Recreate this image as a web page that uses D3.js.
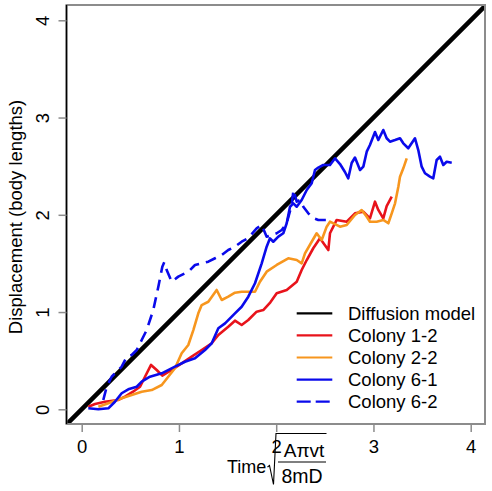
<!DOCTYPE html>
<html>
<head>
<meta charset="utf-8">
<script src="https://cdn.jsdelivr.net/npm/d3@7"></script>
<style>
  html, body { margin: 0; padding: 0; background: #fff; }
  svg { display: block; }
  text { font-family: "Liberation Sans", Arial, Helvetica, sans-serif; }
</style>
</head>
<body>
<svg id="chart" width="492" height="491"></svg>
<script>
// ---------------- data ----------------
const xTicks = [0, 1, 2, 3, 4];
const yTicks = [0, 1, 2, 3, 4];
const legendLabels = ["Diffusion model", "Colony 1-2", "Colony 2-2", "Colony 6-1", "Colony 6-2"];
const diffusionModel = [[-0.2, -0.2], [4.2, 4.2]];

const colony12 = [
  [0.068,0.027],[0.137,0.054],[0.240,0.078],[0.373,0.096],[0.445,0.130],[0.528,0.181],
  [0.600,0.232],[0.651,0.335],[0.713,0.456],[0.771,0.404],[0.829,0.346],[0.925,0.404],
  [1.028,0.473],[1.131,0.541],[1.234,0.610],[1.337,0.679],[1.405,0.764],[1.507,0.849],
  [1.576,0.911],[1.645,0.867],[1.713,0.918],[1.799,1.004],[1.867,1.021],[1.94,1.10],
  [2.005,1.193],[2.108,1.227],[2.211,1.312],[2.262,1.432],[2.314,1.535],[2.381,1.656],
  [2.450,1.758],[2.536,1.638],[2.553,1.810],[2.622,1.947],[2.725,1.929],[2.810,2.015],
  [2.896,2.032],[2.964,1.964],[3.016,2.135],[3.050,2.050],[3.101,1.964],[3.136,2.090],
  [3.188,2.186]
];
const colony22 = [
  [0.171,0.027],[0.274,0.062],[0.411,0.113],[0.514,0.147],[0.617,0.181],[0.720,0.198],
  [0.823,0.250],[0.890,0.335],[0.959,0.422],[1.028,0.576],[1.096,0.661],[1.148,0.815],
  [1.199,0.987],[1.234,1.072],[1.302,1.106],[1.388,1.227],[1.440,1.124],[1.507,1.158],
  [1.576,1.199],[1.645,1.209],[1.713,1.209],[1.782,1.209],[1.833,1.312],[1.902,1.415],
  [2.005,1.484],[2.124,1.553],[2.211,1.535],[2.262,1.501],[2.296,1.604],[2.365,1.723],
  [2.416,1.810],[2.468,1.741],[2.519,1.878],[2.553,1.929],[2.656,1.878],[2.725,1.895],
  [2.810,1.998],[2.879,2.049],[2.931,1.980],[2.964,1.929],[3.033,1.929],[3.101,1.947],
  [3.153,1.913],[3.188,2.015],[3.222,2.118],[3.256,2.289],[3.273,2.392],[3.307,2.478],
  [3.342,2.581]
];
const colony61 = [
  [0.068,0.010],[0.171,0.000],[0.274,0.010],[0.342,0.078],[0.411,0.165],[0.479,0.206],
  [0.566,0.232],[0.617,0.284],[0.702,0.335],[0.823,0.370],[0.959,0.438],[1.062,0.489],
  [1.165,0.524],[1.268,0.610],[1.337,0.679],[1.405,0.833],[1.474,0.884],[1.576,0.987],
  [1.645,1.055],[1.713,1.158],[1.782,1.296],[1.851,1.501],[1.902,1.672],[1.936,1.758],
  [1.970,1.723],[2.022,1.775],[2.073,1.810],[2.108,1.913],[2.142,2.083],[2.176,2.118],
  [2.211,2.083],[2.262,2.152],[2.314,2.255],[2.365,2.324],[2.399,2.461],[2.433,2.486],
  [2.484,2.512],[2.553,2.512],[2.605,2.581],[2.656,2.522],[2.707,2.440],[2.741,2.375],
  [2.776,2.533],[2.810,2.589],[2.862,2.461],[2.896,2.495],[2.931,2.649],[2.964,2.718],
  [3.016,2.851],[3.050,2.769],[3.101,2.872],[3.136,2.787],[3.170,2.752],[3.222,2.769],
  [3.273,2.787],[3.307,2.735],[3.358,2.684],[3.427,2.787],[3.461,2.666],[3.496,2.495],
  [3.530,2.427],[3.581,2.392],[3.615,2.375],[3.650,2.564],[3.684,2.597],[3.718,2.512],
  [3.753,2.546],[3.805,2.536]
];
const colony62 = [
  [0.222,0.096],[0.257,0.232],[0.308,0.335],[0.360,0.387],[0.411,0.438],[0.463,0.541],
  [0.514,0.558],[0.566,0.610],[0.617,0.713],[0.668,0.815],[0.736,1.021],[0.788,1.261],
  [0.829,1.466],[0.849,1.512],[0.874,1.432],[0.925,1.312],[0.993,1.364],[1.062,1.398],
  [1.114,1.432],[1.165,1.484],[1.234,1.501],[1.302,1.518],[1.371,1.553],[1.440,1.587],
  [1.507,1.638],[1.576,1.672],[1.645,1.723],[1.713,1.761],[1.799,1.861],[1.851,1.895],
  [1.902,1.775],[1.954,1.792],[2.005,1.810],[2.057,1.844],[2.108,1.913],[2.159,2.101],
  [2.178,2.255],[2.211,2.135],[2.245,2.152],[2.279,2.083],[2.330,2.015],[2.381,1.967],
  [2.433,1.947],[2.519,1.947]
];

// ---------------- layout ----------------
const colors = ["#000000", "#E8131B", "#F7961E", "#0A0AEB", "#0A0AEB"];
const box = { left: 66.5, right: 485, top: 5, bottom: 424 };
const FS = 18.5;

const svg = d3.select("#chart");
const x = d3.scaleLinear().domain([0, 4]).range([81.7, 470.7]);
const y = d3.scaleLinear().domain([0, 4]).range([409.3, 20.3]);

svg.append("defs").append("clipPath").attr("id", "clip")
  .append("rect").attr("x", box.left).attr("y", box.top)
  .attr("width", box.right - box.left).attr("height", box.bottom - box.top);

const line = d3.line().x(d => x(d[0])).y(d => y(d[1]));
const plot = svg.append("g").attr("clip-path", "url(#clip)");

plot.append("path").datum(diffusionModel).attr("d", line)
  .attr("fill", "none").attr("stroke", colors[0]).attr("stroke-width", 4.5);

const series = [colony12, colony22, colony61, colony62];
series.forEach((s, i) => {
  plot.append("path").datum(s).attr("d", line)
    .attr("fill", "none").attr("stroke", colors[i + 1])
    .attr("stroke-width", 2.6)
    .attr("stroke-linejoin", "round")
    .attr("stroke-dasharray", i === 3 ? "11,7" : null);
});

// frame
svg.append("rect").attr("x", box.left).attr("y", box.top)
  .attr("width", box.right - box.left).attr("height", box.bottom - box.top)
  .attr("fill", "none").attr("stroke", "#8c8c8c").attr("stroke-width", 2);
svg.append("line").attr("x1", box.left).attr("x2", box.left)
  .attr("y1", box.top).attr("y2", box.bottom)
  .attr("stroke", "#000").attr("stroke-width", 1.5);

// x axis
const gx = svg.append("g").attr("transform", `translate(0,${box.bottom})`)
  .call(d3.axisBottom(x).tickValues(xTicks).tickSize(8).tickPadding(8).tickFormat(d3.format("d")));
gx.select(".domain").remove();
gx.selectAll(".tick line").attr("stroke", "#8c8c8c").attr("stroke-width", 1.5);
gx.selectAll(".tick text").attr("font-size", FS).attr("fill", "#000")
  .style("font-family", "'Liberation Sans', Arial, sans-serif");

// y axis
const gy = svg.append("g").attr("transform", `translate(${box.left},0)`)
  .call(d3.axisLeft(y).tickValues(yTicks).tickSize(8).tickFormat(d3.format("d")));
gy.select(".domain").remove();
gy.selectAll(".tick line").attr("stroke", "#8c8c8c").attr("stroke-width", 1.5);
gy.selectAll(".tick text")
  .attr("transform", "rotate(-90)")
  .attr("x", 0).attr("y", -17.5).attr("dy", 0)
  .attr("text-anchor", "middle")
  .attr("font-size", FS).attr("fill", "#000")
  .style("font-family", "'Liberation Sans', Arial, sans-serif");

// y label
svg.append("text")
  .attr("transform", "translate(22,217) rotate(-90)")
  .attr("text-anchor", "middle").attr("font-size", FS)
  .text("Displacement (body lengths)");

// x label:  Time sqrt(Aπvt / 8mD)
const xl = svg.append("g");
xl.append("text").attr("x", 227).attr("y", 473).attr("font-size", 18).text("Time");
xl.append("path")
  .attr("d", "M267.5,467 L269.5,465.5 L273.5,484.5 L276,433.5 L326.5,433.5")
  .attr("fill", "none").attr("stroke", "#000").attr("stroke-width", 1.1);
xl.append("text").attr("x", 304).attr("y", 457).attr("text-anchor", "middle")
  .attr("font-size", 19).text("A\u03C0vt");
xl.append("line").attr("x1", 278).attr("x2", 326).attr("y1", 462).attr("y2", 462)
  .attr("stroke", "#000").attr("stroke-width", 1.1);
xl.append("text").attr("x", 302).attr("y", 483).attr("text-anchor", "middle")
  .attr("font-size", 19.5).text("8mD");

// legend
const leg = svg.append("g");
legendLabels.forEach((lab, i) => {
  const cy = 313.3 + i * 22.1;
  leg.append("line").attr("x1", 296.7).attr("x2", 332.3).attr("y1", cy).attr("y2", cy)
    .attr("stroke", colors[i]).attr("stroke-width", 2.2)
    .attr("stroke-dasharray", i === 4 ? "14,5" : null);
  leg.append("text").attr("x", 348).attr("y", cy + 6.6)
    .attr("font-size", FS).text(lab);
});
</script>
</body>
</html>
